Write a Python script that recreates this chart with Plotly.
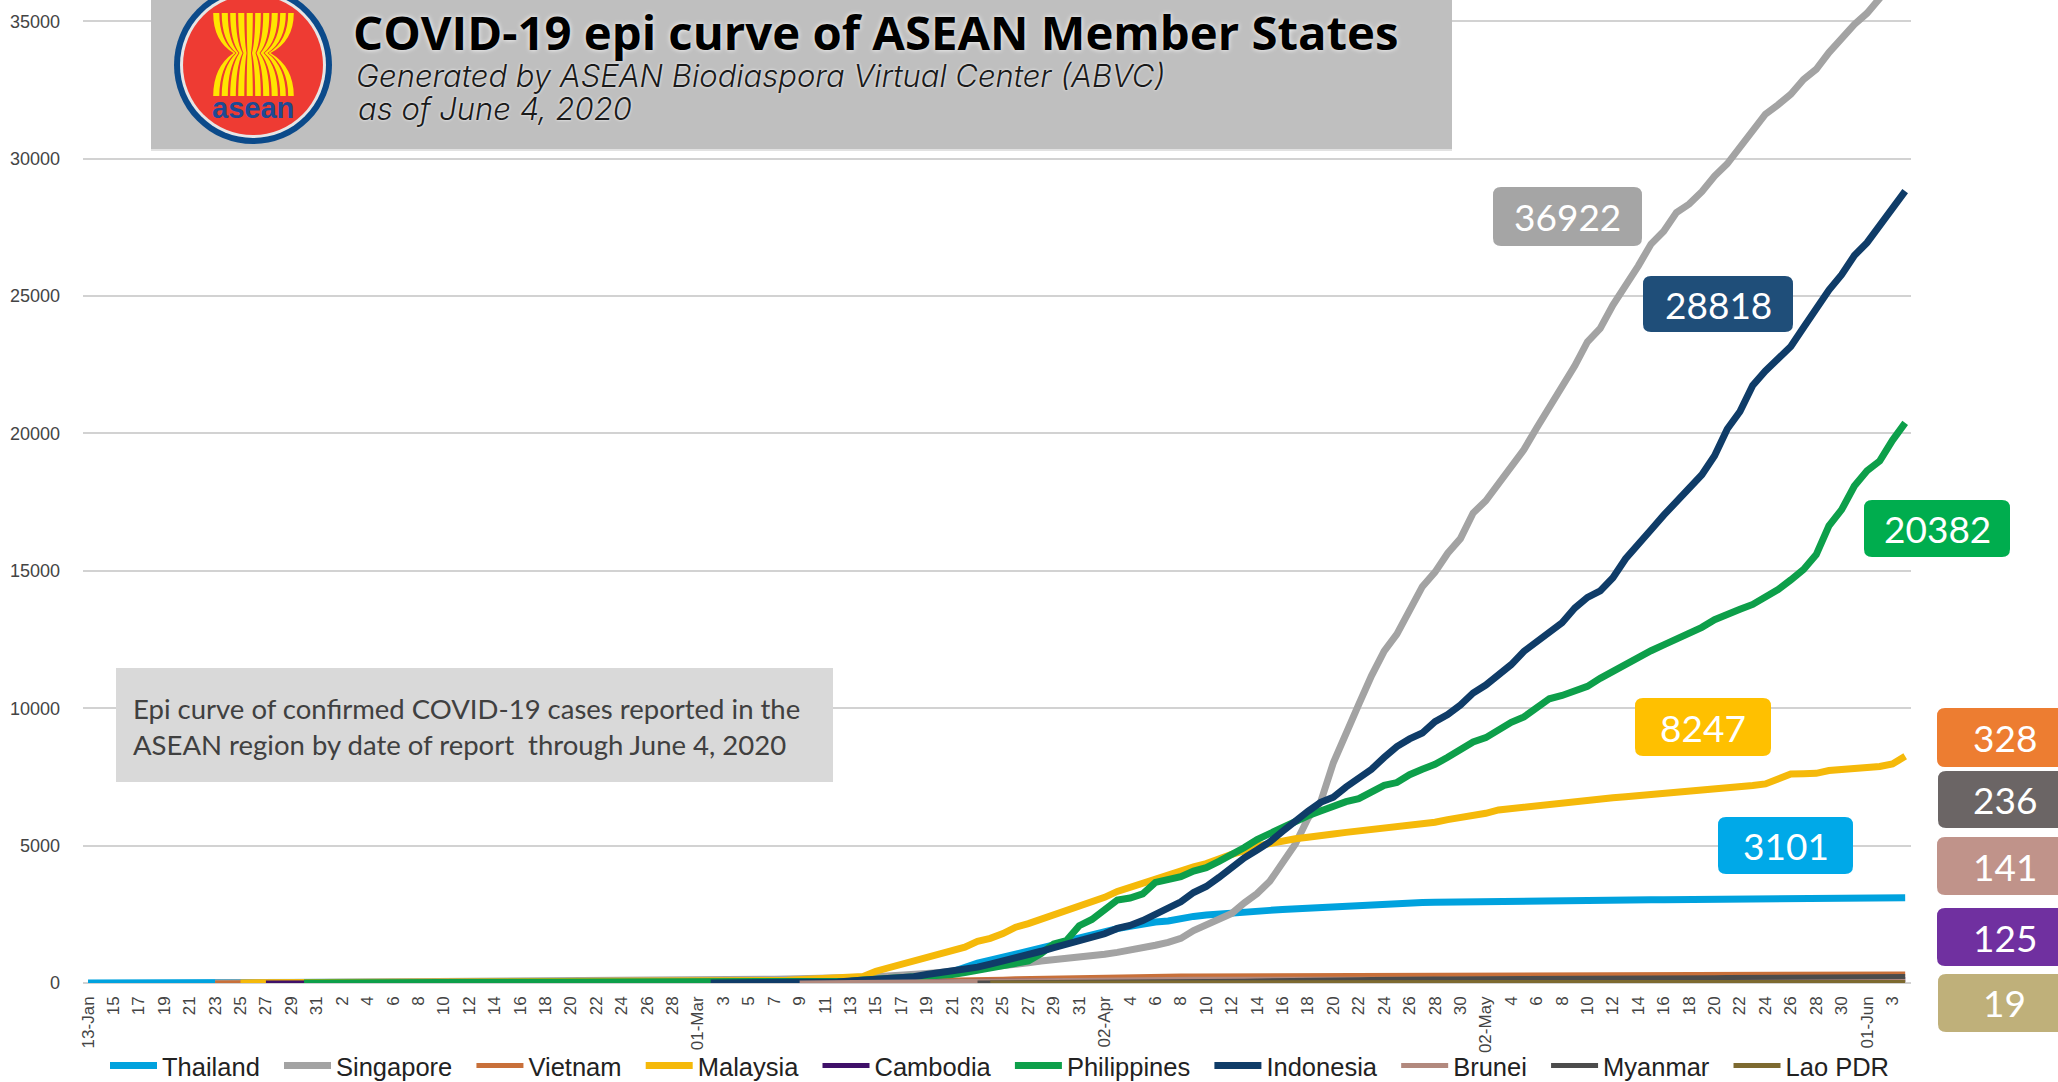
import pandas as pd
import plotly.graph_objects as go

TITLE = "COVID-19 epi curve of ASEAN Member States"
SUB1 = "Generated by ASEAN Biodiaspora Virtual Center (ABVC)"
SUB2 = "as of June 4, 2020"
NOTE1 = "Epi curve of confirmed COVID-19 cases reported in the"
NOTE2 = "ASEAN region by date of report  through June 4, 2020"

TICK_LABELS = ["13-Jan","15","17","19","21","23","25","27","29","31",
 "2","4","6","8","10","12","14","16","18","20","22","24","26","28",
 "01-Mar","3","5","7","9","11","13","15","17","19","21","23","25","27","29","31",
 "02-Apr","4","6","8","10","12","14","16","18","20","22","24","26","28","30",
 "02-May","4","6","8","10","12","14","16","18","20","22","24","26","28","30",
 "01-Jun","3"]

# Each list holds daily counts; the month lists end on the last day of the month.
thailand_jan = [1,1,1,1,2,2,2,2,2,4,4,5,7,8,8,14,14,14,19]
thailand_feb = [19,19,19,25,25,25,25,32,32,32,33,33,33,34,34,35,35,35,35,35,35,35,37,37,40,40,40,41,42]
thailand_mar = [42,43,43,47,48,50,50,50,53,59,70,75,75,82,114,147,177,212,272,322,411,599,721,827,934,1045,1136,1245,1388,1524,1651]
thailand_apr = [1771,1875,1978,2067,2169,2220,2258,2369,2423,2473,2518,2551,2579,2613,2643,2672,2700,2733,2765,2792,2811,2826,2839,2854,2907,2922,2931,2938,2947,2954]
thailand_may = [2960,2966,2969,2987,2988,2989,2992,3000,3004,3009,3015,3017,3018,3025,3025,3028,3031,3033,3034,3037,3040,3042,3040,3045,3054,3054,3065,3076,3077,3081,3081]
thailand_jun = [3083,3083,3084,3101]

singapore_jan = [1,3,3,4,5,7,10,13,16]
singapore_feb = [18,18,18,24,28,30,33,40,43,45,47,50,58,67,72,75,77,81,84,84,85,89,89,90,91,93,96,98,102]
singapore_mar = [106,108,110,112,117,130,138,150,150,160,178,187,200,212,226,243,266,313,345,385,432,455,509,558,631,683,732,802,844,879,926]
singapore_apr = [1000,1049,1114,1189,1309,1375,1481,1623,1910,2108,2299,2532,2918,3252,3699,4427,5050,5992,6588,8014,9125,10141,11178,12075,12693,13624,14423,14951,15641,16169]
singapore_may = [17101,17548,18205,18778,19410,20198,20939,21707,22460,23336,23822,24671,25346,26098,26891,27356,28038,28343,28794,29364,29812,30426,31068,31616,31960,32343,32876,33249,33860,34366,34884]
singapore_jun = [35292,35836,36405,36922]

vietnam_jan = [2,2,2,2,2,2,2,2,2]
vietnam_feb = [6,7,8,10,10,12,13,13,14,14,15,15,16,16,16,16,16,16,16,16,16,16,16,16,16,16,16,16,16]
vietnam_mar = [16,16,16,16,16,17,21,30,31,34,38,44,47,53,57,61,66,76,85,91,94,113,123,134,141,153,163,174,188,203,212]
vietnam_apr = [218,233,237,240,241,245,249,251,255,257,258,262,265,265,267,268,268,268,268,268,268,268,268,270,270,270,270,270,270,270]
vietnam_may = [270,270,271,271,271,271,271,288,288,288,288,288,288,288,312,314,318,320,324,324,324,325,325,325,326,326,327,327,327,328,328]
vietnam_jun = [328,328,328,328]

malaysia_jan = [3,4,4,4,4,7,7]
malaysia_feb = [7,7,8,10,12,14,14,14,16,18,18,18,18,18,22,22,22,22,22,22,22,22,22,22,22,22,23,25,29]
malaysia_mar = [29,29,36,50,50,83,93,99,117,129,149,149,197,238,428,553,673,790,900,1030,1183,1306,1518,1624,1796,2031,2161,2320,2470,2626,2766]
malaysia_apr = [2908,3116,3333,3483,3662,3793,3963,4119,4228,4346,4530,4683,4817,4987,5072,5182,5251,5305,5389,5425,5482,5532,5603,5691,5742,5780,5820,5851,5945,6002]
malaysia_may = [6071,6176,6298,6353,6383,6428,6467,6535,6589,6656,6726,6742,6779,6819,6855,6872,6894,6941,6978,7009,7059,7137,7185,7245,7417,7604,7619,7629,7732,7762,7819]
malaysia_jun = [7857,7877,7970,8247]

cambodia_jan = [1,1,1,1,1]
cambodia_feb = [1,1,1,1,1,1,1,1,1,1,1,1,1,1,1,1,1,1,1,1,1,1,1,1,1,1,1,1,1]
cambodia_mar = [1,1,1,1,1,1,2,2,2,2,3,5,5,7,7,12,33,35,37,51,53,84,87,91,96,96,99,103,107,107,109]
cambodia_apr = [109,110,114,114,114,114,115,115,117,119,119,120,121,122,122,122,122,122,122,122,122,122,122,122,122,122,122,122,122,122]
cambodia_may = [122,122,122,122,122,122,122,122,122,122,122,122,122,122,122,122,122,122,122,122,122,124,124,124,124,124,124,124,124,124,125]
cambodia_jun = [125,125,125,125]

philippines_jan = [1,1]
philippines_feb = [2,2,2,2,3,3,3,3,3,3,3,3,3,3,3,3,3,3,3,3,3,3,3,3,3,3,3,3,3]
philippines_mar = [3,3,3,3,3,5,6,10,20,33,49,52,64,111,140,142,187,202,217,230,307,380,462,552,636,707,803,1075,1418,1546,2084]
philippines_apr = [2311,2633,3018,3094,3246,3660,3764,3870,4076,4195,4428,4648,4932,5223,5453,5660,5878,6087,6259,6459,6599,6710,6981,7192,7294,7579,7777,7958,8212,8488]
philippines_may = [8772,8928,9223,9485,9684,10004,10343,10463,10610,10794,11086,11350,11618,11876,12091,12305,12513,12718,12942,13221,13434,13597,13777,14035,14319,14669,15049,15588,16634,17224,18086]
philippines_jun = [18638,18997,19748,20382]

indonesia_jan = []
indonesia_feb = []
indonesia_mar = [2,2,2,2,4,4,6,19,27,34,34,69,96,117,134,172,227,311,369,450,514,579,686,790,893,1046,1155,1285,1414,1528]
indonesia_apr = [1677,1790,1986,2092,2273,2491,2738,2956,3293,3512,3842,4241,4557,4839,5136,5516,5923,6248,6575,6760,7135,7418,7775,8211,8607,8882,9096,9511,9771,10118]
indonesia_may = [10551,10843,11192,11587,12071,12438,12776,13112,13645,14032,14265,14749,15438,16006,16496,17025,17514,18010,18496,19189,20162,20796,21745,22271,22750,23165,23851,24538,25216,25773,26473]
indonesia_jun = [26940,27549,28233,28818]

brunei_jan = []
brunei_feb = []
brunei_mar = [1,6,11,25,37,40,50,54,56,68,75,78,83,88,91,104,109,114,115,120,120,126,127]
brunei_apr = [129,131,133,134,135,135,135,135,135,135,136,136,136,136,136,136,136,137,138,138,138,138,138,138,138,138,138,138,138,138]
brunei_may = [138,138,138,138,138,138,138,139,141,141,141,141,141,141,141,141,141,141,141,141,141,141,141,141,141,141,141,141,141,141,141]
brunei_jun = [141,141,141,141]

myanmar_jan = []
myanmar_feb = []
myanmar_mar = [2,3,5,8,8,10,10,14,15]
myanmar_apr = [15,20,20,21,21,21,22,22,22,27,28,41,62,74,85,85,88,94,98,107,119,121,127,139,144,146,146,150,150,150]
myanmar_may = [151,155,161,161,161,161,176,177,178,180,180,180,181,182,184,184,187,191,193,193,199,199,199,201,201,201,206,206,207,224,228]
myanmar_jun = [228,232,233,236]

lao_jan = []
lao_feb = []
lao_mar = [2,3,6,8,8,8,9,9]
lao_apr = [10,10,10,11,11,12,12,16,16,19,19,19,19,19,19,19,19,19,19,19,19,19,19,19,19,19,19,19,19,19]
lao_may = [19,19,19,19,19,19,19,19,19,19,19,19,19,19,19,19,19,19,19,19,19,19,19,19,19,19,19,19,19,19,19]
lao_jun = [19,19,19,19]

SERIES = [
 ("Thailand", "#00a2de", thailand_jan+thailand_feb+thailand_mar+thailand_apr+thailand_may+thailand_jun, 7),
 ("Singapore", "#a3a3a3", singapore_jan+singapore_feb+singapore_mar+singapore_apr+singapore_may+singapore_jun, 7),
 ("Vietnam", "#c8703a", vietnam_jan+vietnam_feb+vietnam_mar+vietnam_apr+vietnam_may+vietnam_jun, 5),
 ("Malaysia", "#f5b90a", malaysia_jan+malaysia_feb+malaysia_mar+malaysia_apr+malaysia_may+malaysia_jun, 7),
 ("Cambodia", "#3f1069", cambodia_jan+cambodia_feb+cambodia_mar+cambodia_apr+cambodia_may+cambodia_jun, 5),
 ("Philippines", "#0d9f4a", philippines_jan+philippines_feb+philippines_mar+philippines_apr+philippines_may+philippines_jun, 7),
 ("Indonesia", "#0f3c68", indonesia_jan+indonesia_feb+indonesia_mar+indonesia_apr+indonesia_may+indonesia_jun, 7),
 ("Brunei", "#b2897e", brunei_jan+brunei_feb+brunei_mar+brunei_apr+brunei_may+brunei_jun, 5),
 ("Myanmar", "#4c4c4c", myanmar_jan+myanmar_feb+myanmar_mar+myanmar_apr+myanmar_may+myanmar_jun, 5),
 ("Lao PDR", "#7d6a30", lao_jan+lao_feb+lao_mar+lao_apr+lao_may+lao_jun, 5),
]

# name, colour, box left, top, right, bottom (px)
VALUE_BOXES = [
 ("36922", "#a5a5a5", 1493, 187, 1642, 246),
 ("28818", "#1f4e79", 1643, 276, 1793, 332),
 ("20382", "#00ad4e", 1864, 500, 2010, 557),
 ("8247", "#ffc000", 1635, 698, 1771, 756),
 ("3101", "#00a9e8", 1718, 817, 1853, 874),
 ("328", "#ed7d31", 1937, 708, 2072, 767),
 ("236", "#6b6565", 1938, 771, 2072, 828),
 ("141", "#c0938a", 1937, 837, 2072, 895),
 ("125", "#7030a0", 1937, 908, 2072, 966),
 ("19", "#bfb07a", 1938, 974, 2072, 1032),
]

L, R, T, B = 83, 1911, 0, 983
W, H = 2058, 1082
X = lambda x: (x - L) / (R - L)
Y = lambda y: 1 - (y - T) / (B - T)

fig = go.Figure()
for name, color, vals, w in SERIES:
    dates = pd.date_range(end="2020-06-04", periods=len(vals))
    fig.add_trace(go.Scatter(x=dates, y=vals, mode="lines", name=name + "\u00a0\u00a0",
                             line=dict(color=color, width=w), hoverinfo="skip"))

shapes, anns = [], []

def rect(x0, y0, x1, y1, fill):
    shapes.append(dict(type="rect", xref="paper", yref="paper", x0=X(x0), x1=X(x1),
                       y0=Y(y0), y1=Y(y1), fillcolor=fill, line_width=0))

def ellipse(cx, cy, r, fill):
    shapes.append(dict(type="circle", xref="paper", yref="paper", x0=X(cx-r), x1=X(cx+r),
                       y0=Y(cy-r), y1=Y(cy+r), fillcolor=fill, line_width=0))

def text(x, y, s, size, color, family, anchor="left", bold=False, italic=False, shadow=None, weight=None):
    font = dict(size=size, color=color, family=family)
    if bold: font["weight"] = "bold"
    if weight: font["weight"] = weight
    if italic: font["style"] = "italic"
    if shadow: font["shadow"] = shadow
    anns.append(dict(xref="paper", yref="paper", x=X(x), y=Y(y), text=s, showarrow=False,
                     xanchor=anchor, yanchor="middle", font=font))

def rounded(x0, y0, x1, y1, r, fill):
    p = (f"M {X(x0+r)} {Y(y0)} L {X(x1-r)} {Y(y0)} Q {X(x1)} {Y(y0)} {X(x1)} {Y(y0+r)} "
         f"L {X(x1)} {Y(y1-r)} Q {X(x1)} {Y(y1)} {X(x1-r)} {Y(y1)} "
         f"L {X(x0+r)} {Y(y1)} Q {X(x0)} {Y(y1)} {X(x0)} {Y(y1-r)} "
         f"L {X(x0)} {Y(y0+r)} Q {X(x0)} {Y(y0)} {X(x0+r)} {Y(y0)} Z")
    shapes.append(dict(type="path", xref="paper", yref="paper", path=p, fillcolor=fill, line_width=0))

# banner
rect(151, -2, 1452, 149, "#bfbfbf")
rect(151, 149, 1452, 151, "#e2e2e2")
# logo
ellipse(253, 65, 79, "#0b4a8a")
ellipse(253, 65, 73, "#e6e6e6")
ellipse(253, 65, 70, "#ee3b33")
top_edges = [212, 220.5, 229, 237, 245.5, 254, 262, 270.5, 279, 287, 295]
mid_edges = [233, 236, 239, 243, 247, 251.5, 256, 260, 264, 268, 271]
bot_edges = [212, 220.5, 229, 237, 245.5, 254, 262, 270.5, 279, 287, 295]
yt, ym, yb = 13, 53, 96
for i in range(10):
    gap = 1.2
    a0, a1 = top_edges[i] + gap, top_edges[i+1] - gap
    m0, m1 = mid_edges[i] + 0.5, mid_edges[i+1] - 0.5
    b0, b1 = bot_edges[i] + gap, bot_edges[i+1] - gap
    p = (f"M {X(a0)} {Y(yt)} L {X(a1)} {Y(yt)} Q {X(a1)} {Y(ym-12)} {X(m1)} {Y(ym)} "
         f"Q {X(b1)} {Y(ym+14)} {X(b1)} {Y(yb)} L {X(b0)} {Y(yb)} "
         f"Q {X(b0)} {Y(ym+14)} {X(m0)} {Y(ym)} Q {X(a0)} {Y(ym-12)} {X(a0)} {Y(yt)} Z")
    shapes.append(dict(type="path", xref="paper", yref="paper", path=p, fillcolor="#ffe500", line_width=0))
text(253, 108, "asean", 29, "#1d4a94", "Liberation Sans", anchor="center", bold=True)
# banner text
text(351, 31, TITLE, 47.3, "#000000", "Open Sans", bold=True, shadow="0 0 5px #ffffff")
text(354, 75, SUB1, 31, "#1a1a1a", "Inter", italic=True, shadow="0 0 3px #ffffff", weight=300)
text(356, 108, SUB2, 31, "#1a1a1a", "Inter", italic=True, shadow="0 0 3px #ffffff", weight=300)
# note box
rect(116, 668, 833, 782, "#d9d9d9")
text(131, 708, NOTE1, 27.5, "#404040", "Lato")
text(131, 744, NOTE2, 27.5, "#404040", "Lato")
# value boxes
for s, col, x0, y0, x1, y1 in VALUE_BOXES:
    rounded(x0, y0, x1, y1, 8, col)
    cx = 2005 if x1 == 2072 else (x0 + x1) / 2
    text(cx, (y0 + y1) / 2, s, 37, "#ffffff", "Lato", anchor="center")

top_val = 5000 / 137.4 * (B - T)
fig.update_layout(
    width=W, height=H, autosize=False,
    margin=dict(l=L, r=W - R, t=T, b=H - B, pad=0, autoexpand=False),
    paper_bgcolor="#ffffff", plot_bgcolor="#ffffff",
    shapes=shapes, annotations=anns,
    xaxis=dict(type="date", range=["2020-01-12 14:30", "2020-06-04 11:00"],
               tickmode="array", ticktext=TICK_LABELS,
               tickvals=pd.date_range("2020-01-13", periods=len(TICK_LABELS), freq="2D"),
               tickangle=-90, ticks="", ticklabelstandoff=9, showgrid=False, zeroline=False,
               showline=False, tickfont=dict(family="Liberation Sans", size=17, color="#444444")),
    yaxis=dict(range=[0, top_val], tickmode="array", tickvals=list(range(0, 35001, 5000)),
               ticktext=[str(v) for v in range(0, 35001, 5000)], ticks="", ticklabelstandoff=22,
               gridcolor="#d2d2d2", gridwidth=2, zeroline=True, zerolinecolor="#d2d2d2", zerolinewidth=2,
               showline=False, tickfont=dict(family="Liberation Sans", size=18, color="#444444")),
    legend=dict(orientation="h", x=X(105), y=Y(1066), xanchor="left", yanchor="middle",
                itemwidth=47, font=dict(family="Liberation Sans", size=25.5, color="#222222"),
                bgcolor="rgba(0,0,0,0)", traceorder="normal", itemclick=False, itemdoubleclick=False),
)
fig.write_html("out.html", config={"displayModeBar": False},
               post_script="document.documentElement.style.margin='0';document.body.style.margin='0';")
